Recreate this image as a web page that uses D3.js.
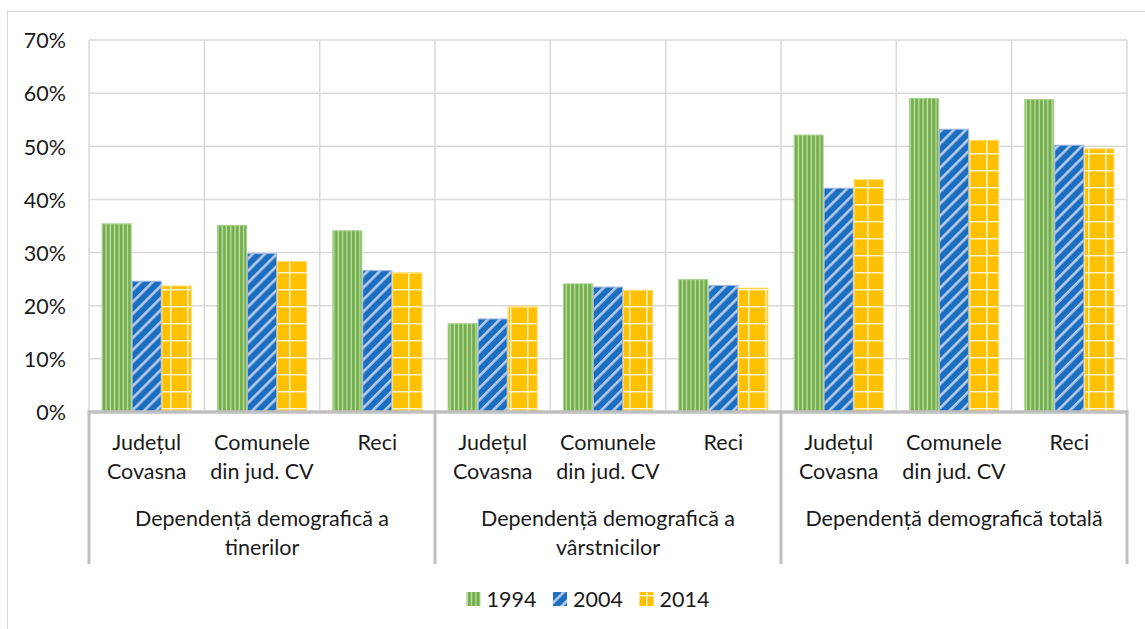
<!DOCTYPE html>
<html>
<head>
<meta charset="utf-8">
<script src="https://cdn.jsdelivr.net/npm/d3@7"></script>
<style>
  body { margin: 0; background: #fff; }
  text { font-family: Lato, "Open Sans", sans-serif; fill: #1a1a1a; }
</style>
</head>
<body>
<script>
'use strict';

// data
const groups = ["Dependență demografică a|tinerilor", "Dependență demografică a|vârstnicilor", "Dependență demografică totală"];
const places = ["Județul|Covasna", "Comunele|din jud. CV", "Reci"];
const years = ["1994", "2004", "2014"];
const values1994 = [35.5, 35.2, 34.2, 16.7, 24.2, 25.0, 52.2, 59.1, 58.9];
const values2004 = [24.7, 29.9, 26.7, 17.6, 23.6, 23.9, 42.2, 53.3, 50.3];
const values2014 = [23.8, 28.4, 26.3, 20.0, 23.0, 23.4, 43.8, 51.2, 49.6];
const yTicks = [0, 10, 20, 30, 40, 50, 60, 70];

const params = { width: 1145, height: 629, left: 89, right: 1127, top: 40, bottom: 412, font: 21.5 };

const series = [values1994, values2004, values2014];
const categories = [];
groups.forEach((g, gi) => places.forEach((p, pi) => categories.push({ id: gi + "-" + pi, group: gi, place: p })));

const svg = d3.select("body").append("svg")
	.attr("width", params.width)
	.attr("height", params.height);

// patterns
const defs = svg.append("defs");
const pg = defs.append("pattern").attr("id", "p1994")
	.attr("patternUnits", "userSpaceOnUse").attr("width", 4.3).attr("height", 10);
pg.append("rect").attr("width", 4.3).attr("height", 10).attr("fill", "#70ad47");
pg.append("rect").attr("x", 2.2).attr("width", 1.4).attr("height", 10).attr("fill", "#c2dfae");

const pb = defs.append("pattern").attr("id", "p2004")
	.attr("patternUnits", "userSpaceOnUse").attr("width", 8.5).attr("height", 10)
	.attr("patternTransform", "rotate(45)");
pb.append("rect").attr("width", 8.5).attr("height", 10).attr("fill", "#1a6fc0");
pb.append("rect").attr("x", 0).attr("width", 2.6).attr("height", 10).attr("fill", "#b7c9ea");

const po = defs.append("pattern").attr("id", "p2014")
	.attr("patternUnits", "userSpaceOnUse").attr("width", 17).attr("height", 17);
po.append("rect").attr("width", 17).attr("height", 17).attr("fill", "#ffc000");
po.append("rect").attr("x", 0).attr("width", 1.5).attr("height", 17).attr("fill", "#fff3cc");
po.append("rect").attr("y", 0).attr("width", 17).attr("height", 1.5).attr("fill", "#fff3cc");

const fills = ["url(#p1994)", "url(#p2004)", "url(#p2014)"];
const edges = ["#a9d18e", "#9db5e0", "#ffd966"];

// outer chart border
svg.append("rect")
	.attr("x", 7.5).attr("y", 11.5)
	.attr("width", params.width).attr("height", params.height)
	.attr("fill", "none").attr("stroke", "#d9d9d9").attr("stroke-width", 1);

const x0 = d3.scaleBand()
	.domain(categories.map(d => d.id))
	.range([params.left, params.right]);

const x1 = d3.scaleBand()
	.domain(years)
	.range([0, x0.bandwidth()])
	.paddingOuter(0.42);

const y = d3.scaleLinear()
	.domain([0, 70])
	.range([params.bottom, params.top]);

// gridlines
const grid = svg.append("g").attr("stroke", "#d9d9d9").attr("stroke-width", 1.5);
grid.selectAll("line.h").data(yTicks.slice(1)).join("line")
	.attr("x1", params.left).attr("x2", params.right)
	.attr("y1", d => y(d)).attr("y2", d => y(d));
grid.selectAll("line.v").data(categories.map(d => x0(d.id)).concat([params.right])).join("line")
	.attr("x1", d => d).attr("x2", d => d)
	.attr("y1", params.top).attr("y2", params.bottom);

// y axis labels
svg.append("g")
	.attr("transform", `translate(${params.left}, 0)`)
	.call(d3.axisLeft(y).tickValues(yTicks).tickSize(0).tickPadding(23).tickFormat(d => d + "%"))
	.call(g => g.select(".domain").remove())
	.call(g => g.selectAll("text").attr("font-size", params.font).attr("fill", "#1a1a1a").attr("dy", "0.36em"));

// bars
const barG = svg.append("g");
series.forEach((vals, si) => {
	barG.selectAll(null).data(categories).join("rect")
		.attr("x", d => x0(d.id) + x1(years[si]) + 0.5)
		.attr("y", (d, i) => y(vals[i]) + 0.5)
		.attr("width", x1.bandwidth() - 1)
		.attr("height", (d, i) => y(0) - y(vals[i]) - 0.5)
		.attr("fill", fills[si])
		.attr("stroke", edges[si])
		.attr("stroke-width", 1);
});

// category axis
svg.append("line")
	.attr("x1", params.left - 1.5).attr("x2", params.right + 1.5)
	.attr("y1", params.bottom).attr("y2", params.bottom)
	.attr("stroke", "#bfbfbf").attr("stroke-width", 3.5);

const groupEdges = [0, 3, 6].map(i => x0(categories[i].id)).concat([params.right]);
svg.append("g").selectAll("line").data(groupEdges).join("line")
	.attr("x1", d => d).attr("x2", d => d)
	.attr("y1", params.bottom).attr("y2", 564)
	.attr("stroke", "#bfbfbf").attr("stroke-width", 3);

const catLabels = svg.append("g").attr("text-anchor", "middle").attr("font-size", params.font);
catLabels.selectAll("text").data(categories).join("text")
	.attr("x", d => x0(d.id) + x0.bandwidth() / 2)
	.attr("y", 450)
	.each(function (d) {
		const t = d3.select(this);
		d.place.split("|").forEach((line, li) => {
			t.append("tspan").attr("x", x0(d.id) + x0.bandwidth() / 2)
				.attr("dy", li === 0 ? 0 : 29).text(line);
		});
	});

const groupLabels = svg.append("g").attr("text-anchor", "middle").attr("font-size", params.font);
groupLabels.selectAll("text").data(groups).join("text")
	.attr("y", 526)
	.each(function (d, gi) {
		const cx = (groupEdges[gi] + groupEdges[gi + 1]) / 2;
		const t = d3.select(this);
		d.split("|").forEach((line, li) => {
			t.append("tspan").attr("x", cx).attr("dy", li === 0 ? 0 : 29).text(line);
		});
	});

// legend
const legend = svg.append("g");
let lx = 466.5;
years.forEach((yr, i) => {
	legend.append("rect")
		.attr("x", lx).attr("y", 592)
		.attr("width", 14).attr("height", 14)
		.attr("fill", fills[i]);
	legend.append("text")
		.attr("x", lx + 20).attr("y", 606.5)
		.attr("font-size", params.font)
		.text(yr);
	lx += 86.5;
});
</script>
</body>
</html>
